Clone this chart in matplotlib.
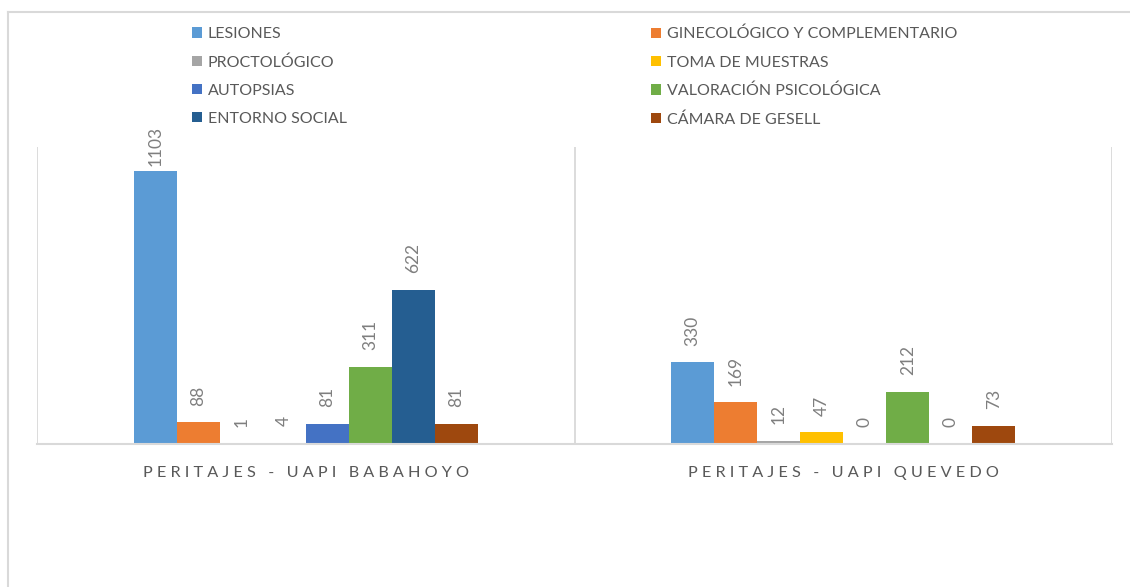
import matplotlib
matplotlib.use("Agg")
import matplotlib.pyplot as plt
from matplotlib.lines import Line2D
import numpy as np

plt.rcParams['font.family'] = ['Lato', 'DejaVu Sans']

# datos
categorias = ["PERITAJES - UAPI BABAHOYO", "PERITAJES - UAPI QUEVEDO"]
series = ["LESIONES", "GINECOLÓGICO Y COMPLEMENTARIO", "PROCTOLÓGICO",
          "TOMA DE MUESTRAS", "AUTOPSIAS", "VALORACIÓN PSICOLÓGICA",
          "ENTORNO SOCIAL", "CÁMARA DE GESELL"]
babahoyo = [1103, 88, 1, 4, 81, 311, 622, 81]
quevedo = [330, 169, 12, 47, 0, 212, 0, 73]
colores = ["#5B9BD5", "#ED7D31", "#A5A5A5", "#FFC000",
           "#4472C4", "#70AD47", "#255E91", "#9E480E"]

valores = np.array([babahoyo, quevedo]).T  # una fila por serie

W, H = 1130, 587
fig = plt.figure(figsize=(W / 100, H / 100), dpi=100)
ax = fig.add_axes([37 / W, 1 - 444 / H, (1112 - 37) / W, (444 - 147) / H])

x = np.arange(len(categorias))
ancho = 0.08
barras = []
for i, (nombre, vals, col) in enumerate(zip(series, valores, colores)):
    b = ax.bar(x + (i - 3.5) * ancho, vals, ancho, color=col, label=nombre)
    barras.append(b)
    for xi, v in zip(x + (i - 3.5) * ancho, vals):
        # Excel empuja la etiqueta hacia abajo si no cabe
        pad = min(12, max(3.5, (1120 - v) * 0.18))
        ax.annotate(str(v), (xi, v), xytext=(0, pad), textcoords="offset points",
                    rotation=90, ha="center", va="bottom", fontsize=12.5,
                    color="#7F7F7F")

ax.set_ylim(0, 1200)
ax.set_xlim(-0.5, 1.5)
for xv in [-0.5, 0.5, 1.5]:
    ax.axvline(xv, color="#D9D9D9", lw=1.3, zorder=0)
for s in ["top", "right", "left"]:
    ax.spines[s].set_visible(False)
ax.spines["bottom"].set_color("#D9D9D9")
ax.spines["bottom"].set_linewidth(1.5)
ax.set_yticks([])
ax.set_xticks(x)
ax.set_xticklabels([" ".join(c) for c in categorias], fontsize=11.7,
                   color="#595959")
ax.tick_params(axis="x", length=0, pad=15.5)

# leyenda en dos columnas, orden por filas
estilo = dict(frameon=False, fontsize=11.5, handlelength=0.65, handleheight=0.65,
              handletextpad=0.35, labelspacing=0.88, borderpad=0, borderaxespad=0,
              loc="upper left", labelcolor="#595959")
leg1 = fig.legend([barras[i] for i in (0, 2, 4, 6)], [series[i] for i in (0, 2, 4, 6)],
                  bbox_to_anchor=(192 / W, 1 - 27 / H), **estilo)
leg2 = fig.legend([barras[i] for i in (1, 3, 5, 7)], [series[i] for i in (1, 3, 5, 7)],
                  bbox_to_anchor=(651 / W, 1 - 27 / H), **estilo)

# borde exterior del grafico (solo visible arriba e izquierda)
fig.add_artist(Line2D([8 / W, 8 / W], [0, 1 - 12 / H], color="#D9D9D9", lw=1.5))
fig.add_artist(Line2D([8 / W, 1], [1 - 12 / H, 1 - 12 / H], color="#D9D9D9", lw=1.5))

fig.savefig("out.png", dpi=100)
